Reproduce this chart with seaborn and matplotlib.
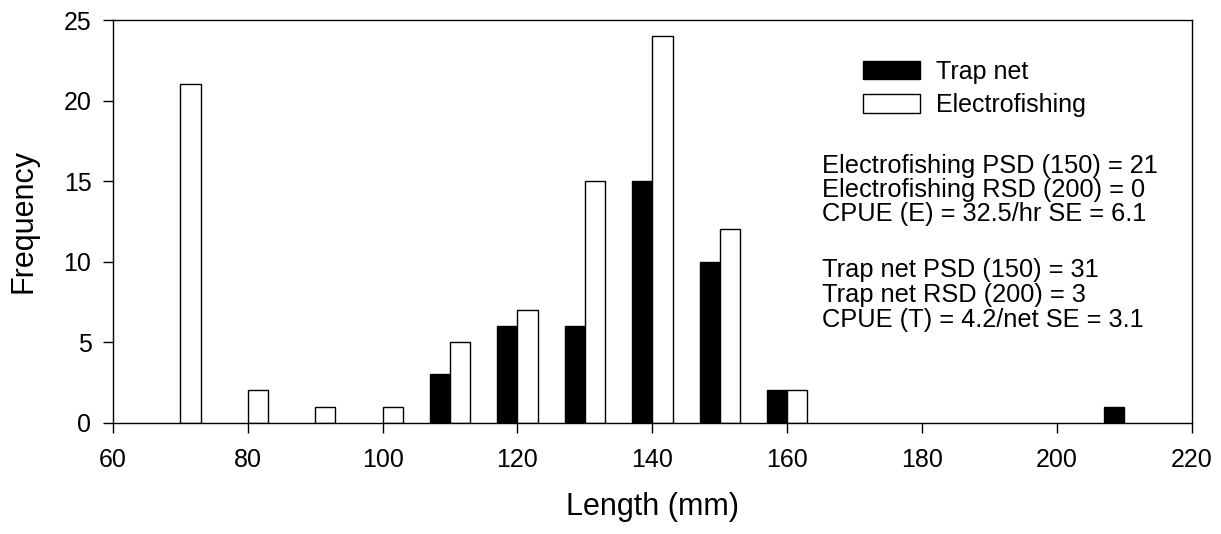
import numpy as np
import pandas as pd
import matplotlib
matplotlib.use("Agg")
import matplotlib.pyplot as plt
from matplotlib.patches import Patch
import seaborn as sns

# ---- data ----
lengths = [70, 80, 90, 100, 110, 120, 130, 140, 150, 160, 210]
trap_net = [0, 0, 0, 0, 3, 6, 6, 15, 10, 2, 1]
electrofishing = [21, 2, 1, 1, 5, 7, 15, 24, 12, 2, 0]
series_names = ["Trap net", "Electrofishing"]
stats_electro = ["Electrofishing PSD (150) = 21",
                 "Electrofishing RSD (200) = 0",
                 "CPUE (E) = 32.5/hr SE = 6.1"]
stats_trap = ["Trap net PSD (150) = 31",
              "Trap net RSD (200) = 3",
              "CPUE (T) = 4.2/net SE = 3.1"]
x_ticks = [60, 80, 100, 120, 140, 160, 180, 200, 220]
y_ticks = [0, 5, 10, 15, 20, 25]

df = pd.DataFrame({
    "Length": lengths * 2,
    "Frequency": trap_net + electrofishing,
    "Gear": [series_names[0]] * len(lengths) + [series_names[1]] * len(lengths),
})
df = df[df["Frequency"] > 0]

sns.set_style("ticks")
plt.rcParams["font.family"] = ["Liberation Sans", "DejaVu Sans"]
plt.rcParams["text.color"] = "black"
plt.rcParams["axes.labelcolor"] = "black"
plt.rcParams["xtick.color"] = "black"
plt.rcParams["ytick.color"] = "black"

fig = plt.figure(figsize=(12.21, 5.34), dpi=100)
ax = fig.add_axes([0.0925, 0.2085, 0.8835, 0.754])

palette = {series_names[0]: "black", series_names[1]: "white"}
sns.barplot(data=df, x="Length", y="Frequency", hue="Gear",
            hue_order=series_names, palette=palette, native_scale=True,
            width=0.6, dodge=True, errorbar=None, saturation=1,
            edgecolor="black", linewidth=1.0, legend=False, ax=ax)

ax.set_xlim(60, 220)
ax.set_ylim(0, 25)
ax.set_xticks(x_ticks)
ax.set_yticks(y_ticks)
ax.tick_params(axis="both", direction="out", length=7, width=1,
               labelsize=18, colors="black")
ax.tick_params(axis="x", pad=11)
ax.tick_params(axis="y", pad=8.5)
for s in ax.spines.values():
    s.set_visible(True)
    s.set_color("black")
    s.set_linewidth(1.0)
ax.set_xlabel("Length (mm)", fontsize=22, labelpad=15, color="black")
ax.set_ylabel("Frequency", fontsize=22, labelpad=18, color="black")

handles = [Patch(facecolor="black", edgecolor="black", linewidth=1),
           Patch(facecolor="white", edgecolor="black", linewidth=1)]
fig.legend(handles, series_names, loc="upper left",
           bbox_to_anchor=(0.7066, 0.888), frameon=False, fontsize=18,
           borderpad=0, borderaxespad=0, handlelength=2.3,
           handleheight=0.76, handletextpad=0.64, labelspacing=0.38)

x0 = 822 / 1221
for i, line in enumerate(stats_electro):
    fig.text(x0, 1 - (172.5 + 24.5 * i) / 534, line, fontsize=18.3,
             va="baseline", ha="left", color="black")
for i, line in enumerate(stats_trap):
    fig.text(x0, 1 - (277.5 + 24.5 * i) / 534, line, fontsize=18.3,
             va="baseline", ha="left", color="black")

fig.savefig("out.png", dpi=100)
